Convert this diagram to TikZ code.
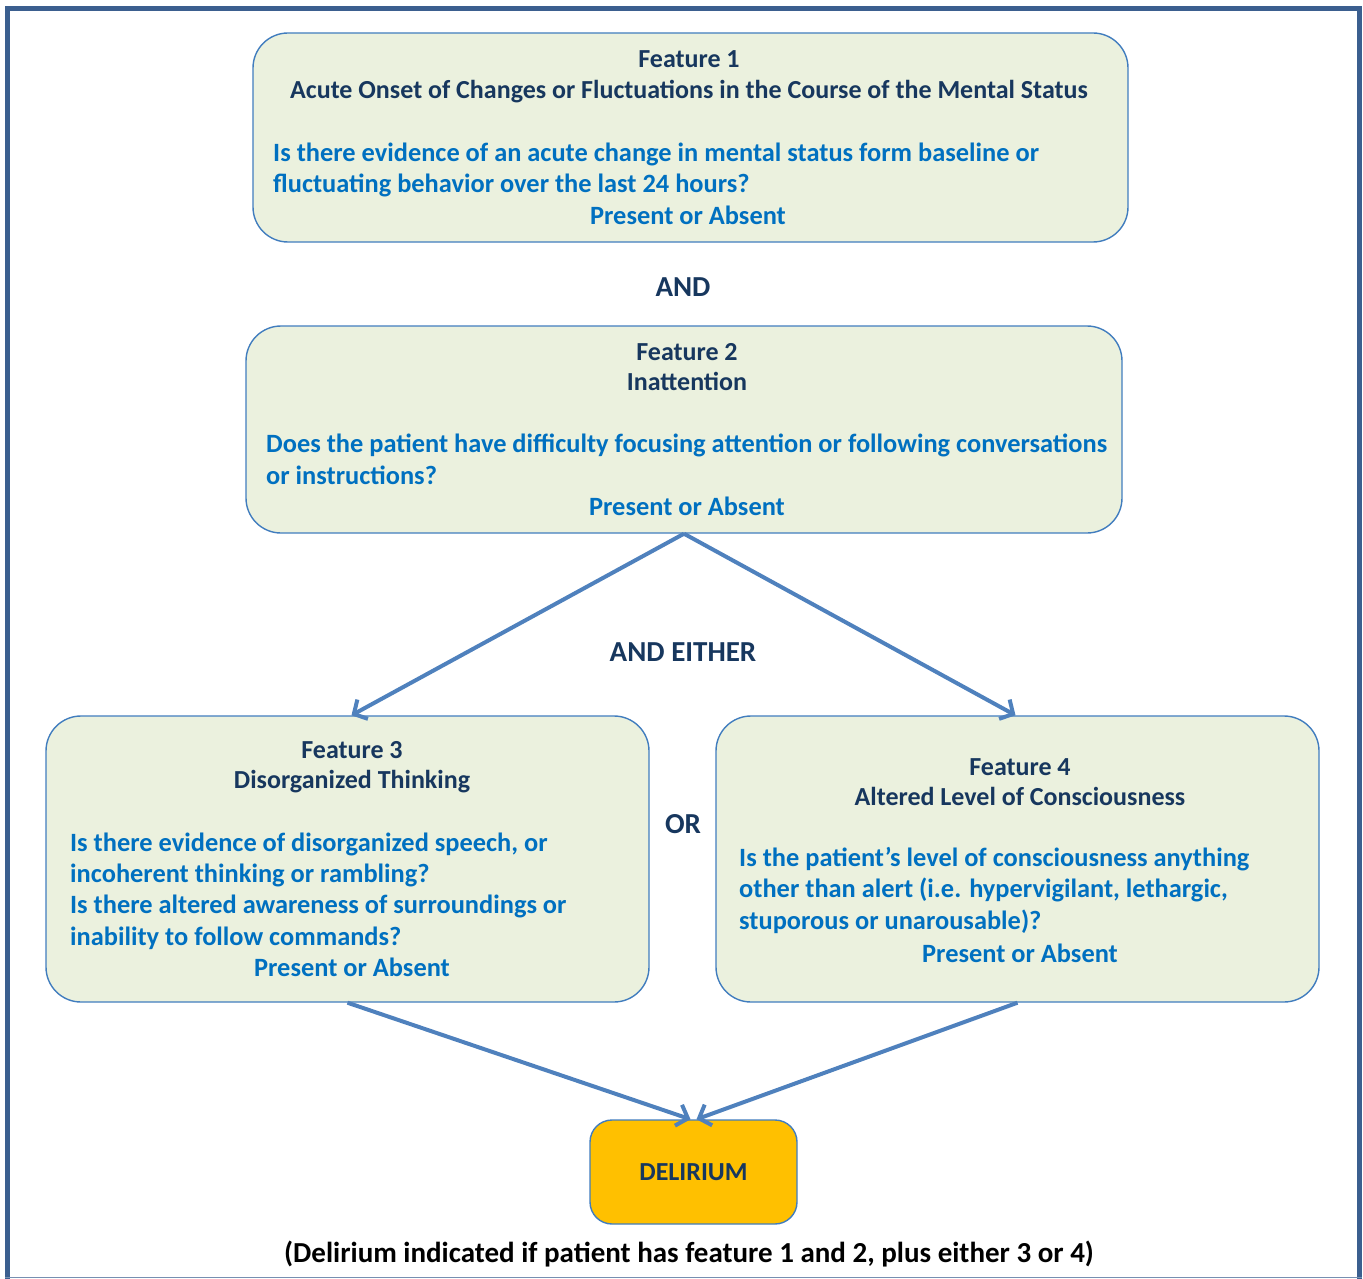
\documentclass[tikz,border=0pt]{standalone}
\usepackage{fontspec}
\setmainfont{Carlito}
\usepackage{tikz}
\usetikzlibrary{arrows.meta, positioning}
\definecolor{framecol}{RGB}{59,95,143}
\definecolor{boxfill}{RGB}{235,241,222}
\definecolor{boxline}{RGB}{65,125,190}
\definecolor{arrowcol}{RGB}{79,129,189}
\definecolor{navy}{RGB}{23,55,94}
\definecolor{qblue}{RGB}{0,112,192}
\definecolor{gold}{RGB}{255,192,0}
\tikzstyle{feature} = [rectangle, rounded corners=35pt, draw=boxline, line width=1.4pt, fill=boxfill, inner sep=0pt]
\tikzstyle{title} = [text=navy, font=\fontsize{26}{31}\selectfont\bfseries, anchor=base, inner sep=0pt]
\tikzstyle{joinword} = [text=navy, font=\fontsize{29}{31}\selectfont\bfseries, anchor=base, inner sep=0pt]
\tikzstyle{question} = [text=qblue, font=\fontsize{26.4}{31.3}\selectfont\bfseries, anchor=base west, align=left, inner sep=0pt]
\tikzstyle{answer} = [text=qblue, font=\fontsize{26.4}{31}\selectfont\bfseries, anchor=base, inner sep=0pt]
\tikzstyle{arrow} = [line width=4pt, draw=arrowcol, -{Straight Barb[length=10pt, width=22pt, line width=4pt]}]

\begin{document}
\begin{tikzpicture}[x=1pt, y=-1pt]
\useasboundingbox (0,0) rectangle (1363,1279);

% Frame
\draw[framecol, line width=5pt] (7.5,1279) -- (7.5,8.5) -- (1359.5,8.5) -- (1359.5,1279);
\draw[framecol!70, line width=1.5pt] (5,1277.5) -- (1362,1277.5);

% Boxes
\node (f1) [feature, minimum width=875pt, minimum height=209pt] at (690.5,137.5) {};
\node (f2) [feature, minimum width=876pt, minimum height=207pt] at (684,429.5) {};
\node (f3) [feature, minimum width=603pt, minimum height=286pt] at (347.5,859) {};
\node (f4) [feature, minimum width=603pt, minimum height=286pt] at (1017.5,859) {};
\node (delirium) [rectangle, rounded corners=22pt, draw=boxline, line width=1.4pt, fill=gold, minimum width=207pt, minimum height=104pt] at (693.5,1172) {};

% Feature 1 (question nodes sit on their last line)
\node (f1num) [title] at (689,68) {Feature 1};
\node (f1name) [title] at (689,99) {Acute Onset of Changes or Fluctuations in the Course of the Mental Status};
\node (f1q) [question] at (273,193) {Is there evidence of an acute change in mental status form baseline or\\fluctuating behavior over the last 24 hours?};
\node (f1a) [answer] at (688,224) {Present or Absent};

% Feature 2
\node (f2num) [title] at (687,360) {Feature 2};
\node (f2name) [title] at (687,390) {Inattention};
\node (f2q) [question] at (266,484) {Does the patient have difficulty focusing attention or following conversations\\or instructions?};
\node (f2a) [answer] at (687,515) {Present or Absent};

% Feature 3
\node (f3num) [title] at (352,758) {Feature 3};
\node (f3name) [title] at (352,788) {Disorganized Thinking};
\node (f3q) [question] at (70,945) {Is there evidence of disorganized speech, or\\incoherent thinking or rambling?\\Is there altered awareness of surroundings or\\inability to follow commands?};
\node (f3a) [answer] at (352,976) {Present or Absent};

% Feature 4
\node (f4num) [title] at (1020,775) {Feature 4};
\node (f4name) [title] at (1020,805) {Altered Level of Consciousness};
\node (f4q) [question] at (739,929) {Is the patient’s level of consciousness anything\\other than alert (i.e. hypervigilant, lethargic,\\stuporous or unarousable)?};
\node (f4a) [answer] at (1020,962) {Present or Absent};

% Connecting words
\node (and) [joinword] at (683,296) {AND};
\node (either) [joinword] at (683,661) {AND EITHER};
\node (or) [joinword] at (683,833) {OR};
\node (dtext) [title] at (693.5,1180) {DELIRIUM};
\node (note) [joinword, text=black] at (689,1262) {(Delirium indicated if patient has feature 1 and 2, plus either 3 or 4)};

% Arrows
\draw[arrow] (f2.south) -- ([xshift=4pt]f3.north);
\draw[arrow] (f2.south) -- ([xshift=-2pt]f4.north);
\draw[arrow] (f3.south) -- ([xshift=-3pt]delirium.north);
\draw[arrow] (f4.south) -- ([xshift=3pt]delirium.north);

\end{tikzpicture}
\end{document}
